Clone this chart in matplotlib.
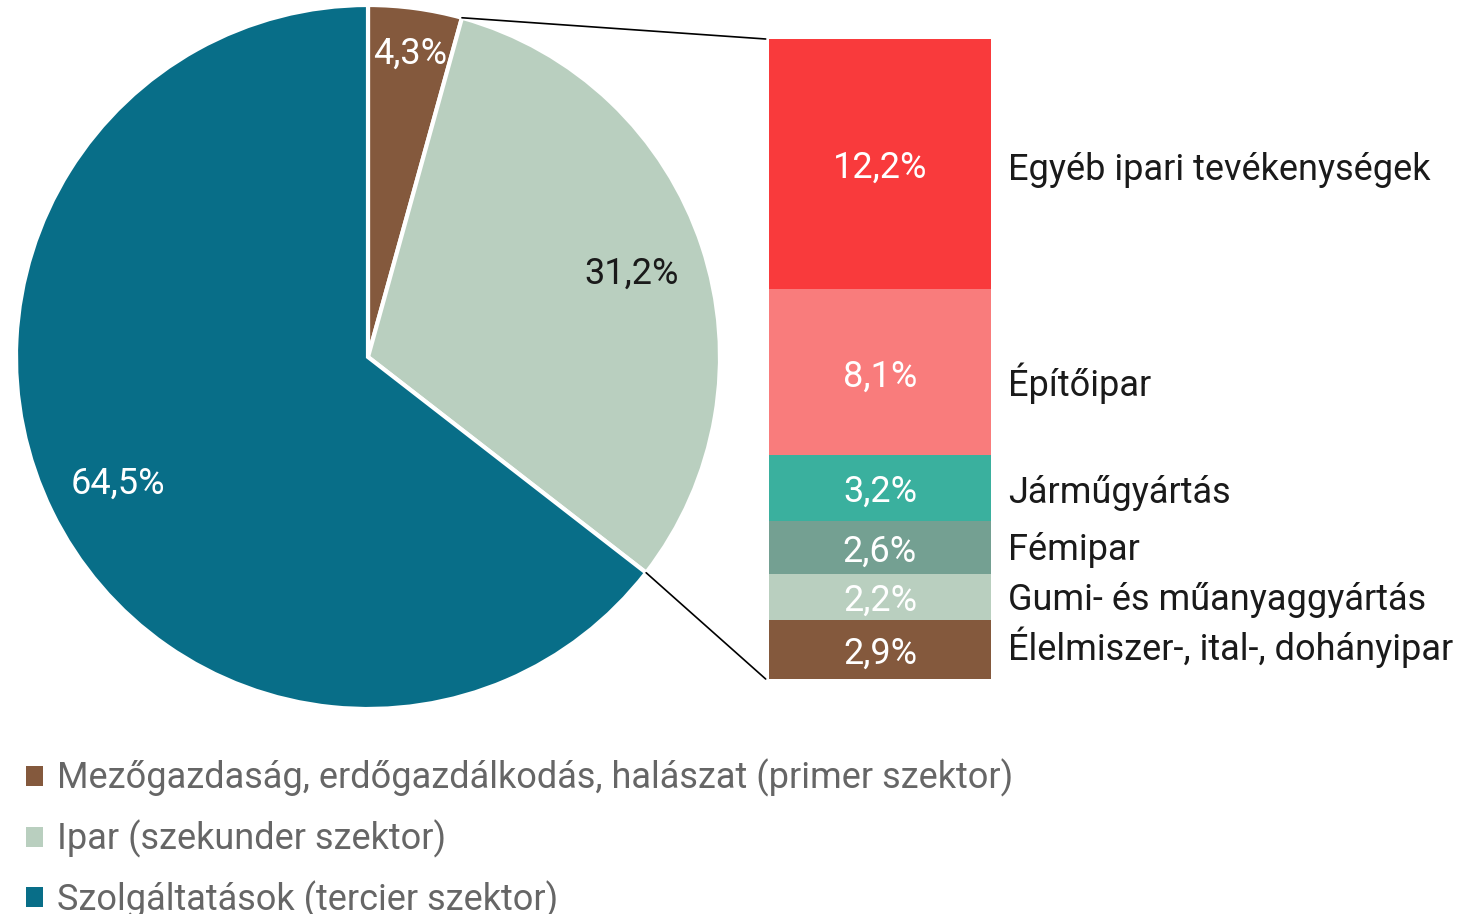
import matplotlib
matplotlib.use("Agg")
import matplotlib.pyplot as plt
from matplotlib.patches import Patch, ConnectionPatch
import numpy as np

plt.rcParams['font.family'] = ['Roboto', 'DejaVu Sans']

# Pie data
sectors = ["Mezőgazdaság, erdőgazdálkodás, halászat (primer szektor)",
           "Ipar (szekunder szektor)",
           "Szolgáltatások (tercier szektor)"]
sector_values = [4.3, 31.2, 64.5]
sector_labels = ["4,3%", "31,2%", "64,5%"]
sector_colors = ["#84593D", "#B9CFBF", "#086E88"]
sector_text_colors = ["white", "#1a1a1a", "white"]
label_dist = [0.88, 0.79, 0.79]

# Industry breakdown (bottom to top)
industries = ["Élelmiszer-, ital-, dohányipar", "Gumi- és műanyaggyártás", "Fémipar",
              "Járműgyártás", "Építőipar", "Egyéb ipari tevékenységek"]
industry_values = [2.9, 2.2, 2.6, 3.2, 8.1, 12.2]
industry_labels = ["2,9%", "2,2%", "2,6%", "3,2%", "8,1%", "12,2%"]
industry_colors = ["#84593D", "#B9CFBF", "#74A092", "#3AB09E", "#F97C7C", "#F93A3C"]
# small vertical nudges of the category names (pixels, positive = down)
name_nudge_px = [-6, -1, -2, 1, 7, 2]

FS = 26
W, H = 1466, 914
fig = plt.figure(figsize=(W / 100, H / 100), dpi=100)

# pie axes: center (368,357), radius 352 px
cx, cy, r = 368, 357, 352
axp = fig.add_axes([(cx - r) / W, (H - cy - r) / H, 2 * r / W, 2 * r / H])
wedges, _ = axp.pie(sector_values, colors=sector_colors, startangle=90, counterclock=False,
                    wedgeprops=dict(edgecolor="white", linewidth=3))
axp.set_xlim(-1, 1)
axp.set_ylim(-1, 1)
axp.set_aspect('auto')
axp.axis('off')

total = sum(sector_values)
cum = 0
for v, lab, tc, d in zip(sector_values, sector_labels, sector_text_colors, label_dist):
    mid = 90 - (cum + v / 2) / total * 360
    cum += v
    axp.text(d * np.cos(np.radians(mid)), d * np.sin(np.radians(mid)), lab,
             ha='center', va='center_baseline', color=tc, fontsize=FS)

# bar axes
bx0, bx1, by0, by1 = 769, 991, 39, 679
axb = fig.add_axes([bx0 / W, (H - by1) / H, (bx1 - bx0) / W, (by1 - by0) / H])
bottom = 0
for v, lab, name, col, dy in zip(industry_values, industry_labels, industries,
                                 industry_colors, name_nudge_px):
    axb.bar(0.5, v, width=1, bottom=bottom, color=col, edgecolor='none')
    axb.text(0.5, bottom + v / 2, lab, ha='center', va='center_baseline', color='white',
             fontsize=FS)
    axb.annotate(name, xy=(1.0, bottom + v / 2), xytext=(17 * 0.72, -dy * 0.72),
                 textcoords='offset points', ha='left', va='center_baseline',
                 color='#1a1a1a', fontsize=FS, annotation_clip=False)
    bottom += v
axb.set_xlim(0, 1)
axb.set_ylim(0, sum(industry_values))
axb.axis('off')

# connection lines
a_top = np.radians(90 - sector_values[0] / total * 360)
a_bot = np.radians(90 - (sector_values[0] + sector_values[1]) / total * 360)
for ang, yb in [(a_top, sum(industry_values)), (a_bot, 0)]:
    con = ConnectionPatch(xyA=(np.cos(ang), np.sin(ang)), coordsA=axp.transData,
                          xyB=(-0.015, yb), coordsB=axb.transData,
                          color='black', linewidth=1.2)
    fig.add_artist(con)

# legend
handles = [Patch(facecolor=c, edgecolor='none') for c in sector_colors]
leg = fig.legend(handles, sectors, loc='upper left', bbox_to_anchor=(26 / W, 1 - 759 / H),
                 frameon=False, fontsize=FS, handlelength=0.47, handleheight=0.47,
                 handletextpad=0.38, labelspacing=0.62, borderaxespad=0, borderpad=0)
for t in leg.get_texts():
    t.set_color('#666666')

fig.savefig("out.png", dpi=100)
